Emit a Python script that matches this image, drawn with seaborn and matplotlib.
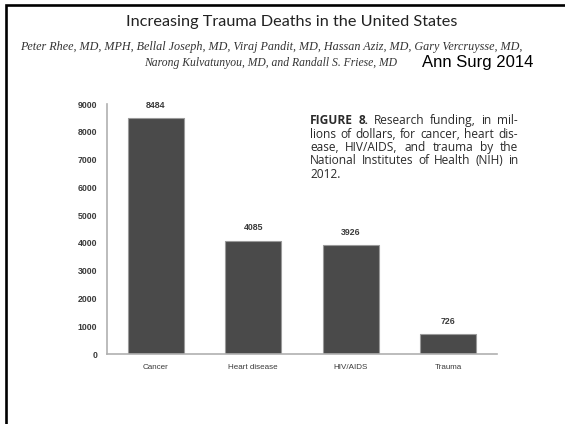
import matplotlib
matplotlib.use("Agg")
import matplotlib.pyplot as plt
import matplotlib.patches as mpatches
import seaborn as sns
import pandas as pd

# NIH research funding (millions of dollars), 2012
categories = ["Cancer", "Heart disease", "HIV/AIDS", "Trauma"]
funding = [8484, 4085, 3926, 726]
y_ticks = [0, 1000, 2000, 3000, 4000, 5000, 6000, 7000, 8000, 9000]

title = "Increasing Trauma Deaths in the United States"
authors = [
    "Peter Rhee, MD, MPH, Bellal Joseph, MD, Viraj Pandit, MD, Hassan Aziz, MD, Gary Vercruysse, MD,",
    "Narong Kulvatunyou, MD, and Randall S. Friese, MD",
]
source = "Ann Surg 2014"
caption_lines = [
    "FIGURE 8. Research funding, in mil-",
    "lions of dollars, for cancer, heart dis-",
    "ease, HIV/AIDS, and trauma by the",
    "National Institutes of Health (NIH) in",
    "2012.",
]

df = pd.DataFrame({"category": categories, "funding": funding})

sns.set_theme(style="white")
plt.rcParams["font.family"] = ["Liberation Sans", "DejaVu Sans"]

W, H = 565, 424
fig = plt.figure(figsize=(W / 100, H / 100), dpi=100)
fig.patch.set_facecolor("white")

ax = fig.add_axes([107 / W, (H - 354) / H, 390 / W, 250 / H])
sns.barplot(data=df, x="category", y="funding", ax=ax, color="#4a4a4a",
            width=0.575, saturation=1, edgecolor="#9a9a9a", linewidth=0.8)

ax.set_xlim(-0.5, 3.5)
ax.set_ylim(0, 9000)
ax.set_yticks(y_ticks)
ax.set_yticklabels([str(t) for t in y_ticks], fontsize=6.3,
                   fontweight="bold", color="#3a3a3a")
ax.tick_params(axis="y", length=0, pad=7)
ax.tick_params(axis="x", length=0, pad=7, labelsize=5.8, labelcolor="#3a3a3a")
ax.set_xlabel("")
ax.set_ylabel("")
for side in ["top", "right"]:
    ax.spines[side].set_visible(False)
for side in ["left", "bottom"]:
    ax.spines[side].set_color("#b0b0b0")
    ax.spines[side].set_linewidth(1.2)

for i, v in enumerate(funding):
    ax.annotate(str(v), (i, v), xytext=(0, 6), textcoords="offset points",
                ha="center", va="bottom", fontsize=6.3, fontweight="bold",
                color="#3a3a3a")

# Slide frame
fig.patches.append(mpatches.Rectangle((6 / W, -0.1), 1.2, 1.1 - 5 / H,
                                      transform=fig.transFigure, fill=False,
                                      edgecolor="black", linewidth=1.9))

fig.text(292 / W, 1 - 22 / H, title, ha="center", va="center",
         fontsize=11.7, family="Lato", color="#222222")
fig.text(271 / W, 1 - 47 / H, authors[0], ha="center", va="center",
         fontsize=8.7, family="Liberation Serif", style="italic", color="#333333")
fig.text(271 / W, 1 - 63 / H, authors[1], ha="center", va="center",
         fontsize=8.4, family="Liberation Serif", style="italic", color="#333333")
fig.text(422 / W, 1 - 63 / H, source, ha="left", va="center",
         fontsize=12, family="Liberation Sans", color="black")

# Justified caption block
fig.canvas.draw()
renderer = fig.canvas.get_renderer()
left, right = 310, 518
line_base = [124, 137.5, 151, 164.5, 178]
cap_kw = dict(fontsize=8.6, family="Open Sans", color="#2a2a2a", va="baseline")
space_w = fig.text(0, 0, " ", **cap_kw)
space_px = space_w.get_window_extent(renderer).width
space_w.remove()
for li, (line, yy) in enumerate(zip(caption_lines, line_base)):
    words = line.split(" ")
    arts = []
    for wi, w in enumerate(words):
        bold = li == 0 and wi < 2
        t = fig.text(0, 1 - yy / H, w, ha="left",
                     fontweight="bold" if bold else "normal", **cap_kw)
        arts.append(t)
    widths = [a.get_window_extent(renderer).width for a in arts]
    last = li == len(caption_lines) - 1
    if last or len(words) == 1:
        gap = space_px
    else:
        gap = (right - left - sum(widths)) / (len(words) - 1)
    x = left
    for a, wd in zip(arts, widths):
        a.set_x(x / W)
        x += wd + gap

fig.savefig("out.png", dpi=100, facecolor="white")
